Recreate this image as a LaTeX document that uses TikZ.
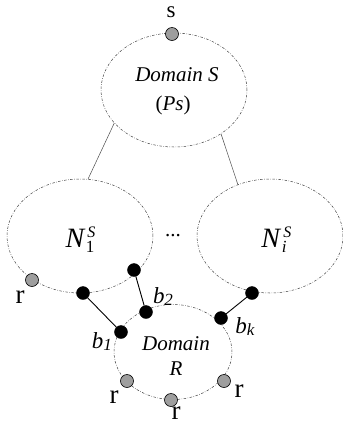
\documentclass[tikz,border=0pt]{standalone}
\usepackage{fontspec}
\setmainfont{Liberation Serif}
\usetikzlibrary{shapes.geometric}
\newcommand\fs[1]{\fontsize{#1}{#1}\selectfont}
\tikzset{
  dom/.style={ellipse, draw=black!75, line width=0.5pt, dash pattern=on 2.5pt off 1.5pt on 0.6pt off 1.5pt, inner sep=0pt},
  link/.style={draw=black!70, line width=0.5pt},
  bdot/.style={circle, fill=black, draw=black, minimum size=13pt, inner sep=0pt},
  gdot/.style={circle, fill=black!38, draw=black, line width=0.6pt, minimum size=13pt, inner sep=0pt},
  bond/.style={draw=black, line width=0.9pt},
  txt/.style={inner sep=0pt, font=\fs{21}},
  rlab/.style={inner sep=0pt, font=\fs{27}},
}
\begin{document}
\begin{tikzpicture}[x=1pt,y=-1pt]
\useasboundingbox (0,0) rectangle (343,424);
% domains
\node[dom, minimum width=146pt, minimum height=114pt] (S) at (174,90) {};
\node[dom, minimum width=146pt, minimum height=114pt] (N1) at (80,236) {};
\node[dom, minimum width=146pt, minimum height=114pt] (Ni) at (270,236) {};
\node[dom, minimum width=118pt, minimum height=95pt] (R) at (173,352) {};
% links from S to subdomains
\draw[link] (S.209) -- (N1.82);
\draw[link] (S.-43) -- (Ni.122);
% texts
\node[txt] (tS) at (177,75) {\textit{Domain S}};
\node[txt] (tPs) at (173,105) {(\textit{Ps})};
\node[txt] (tD) at (176,344) {\textit{Domain}};
\node[txt] (tR) at (176,369) {\textit{R}};
\node[inner sep=0pt, font=\fs{28}] (tN1) at (80,240) {\textit{N}\kern0.5pt\rlap{\kern1.5pt\raisebox{10pt}{\fs{16}\textit{S}}}\raisebox{-5pt}{\fs{17}1}};
\node[inner sep=0pt, font=\fs{28}] (tNi) at (274,240) {\textit{N}\kern0.5pt\rlap{\kern1.5pt\raisebox{10pt}{\fs{16}\textit{S}}}\raisebox{-5pt}{\fs{17}\textit{i}}};
\node[txt] (dots) at (173,236) {...};
% s source
\node[gdot] (s) at (172,34) {};
\node[inner sep=0pt, font=\fs{23}] (slab) at (171,12) {s};
% boundary dots
\node[bdot] (n1a) at (83,293) {};
\node[bdot] (n1b) at (134,270) {};
\node[bdot] (nia) at (252,293) {};
\node[bdot] (b1) at (121,332) {};
\node[bdot] (b2) at (146,312) {};
\node[bdot] (bk) at (221,318) {};
\draw[bond] (n1a) -- (b1);
\draw[bond] (n1b) -- (b2);
\draw[bond] (nia) -- (bk);
\node[inner sep=0pt, font=\fs{23}] (lb1) at (102,342) {\textit{b}\raisebox{-2pt}{\fs{17}\textit{1}}};
\node[inner sep=0pt, font=\fs{23}] (lb2) at (163,297) {\textit{b}\raisebox{-2pt}{\fs{17}\textit{2}}};
\node[inner sep=0pt, font=\fs{23}] (lbk) at (245,327) {\textit{b}\raisebox{-2pt}{\fs{17}\textit{k}}};
% receivers
\node[gdot] (r0) at (32,280) {};
\node[rlab] (lr0) at (20,297) {r};
\node[gdot] (r1) at (127,381) {};
\node[rlab] (lr1) at (114,397) {r};
\node[gdot] (r2) at (171,400) {};
\node[rlab] (lr2) at (176,413) {r};
\node[gdot] (r3) at (224,381) {};
\node[rlab] (lr3) at (239,391) {r};
\end{tikzpicture}
\end{document}
